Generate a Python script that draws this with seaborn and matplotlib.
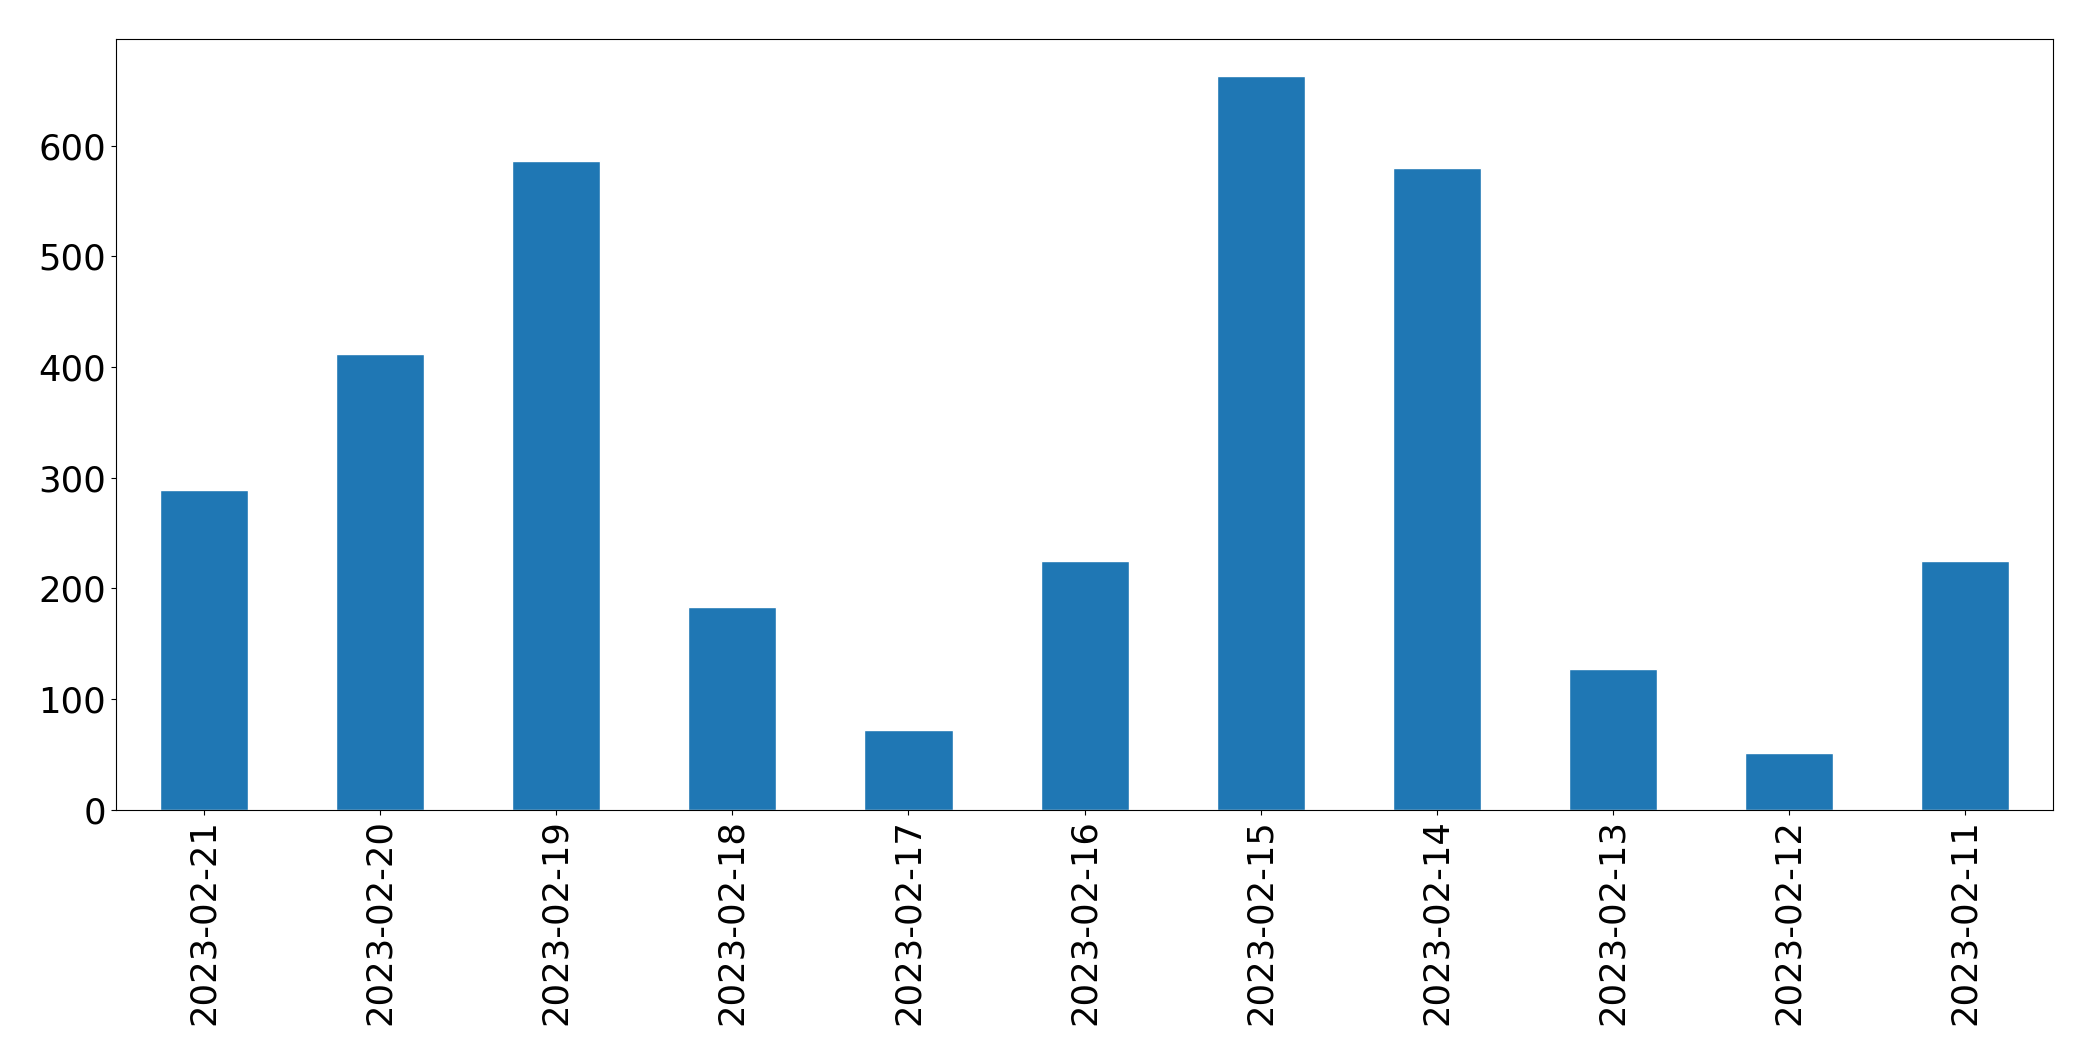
import matplotlib
matplotlib.use('Agg')
import matplotlib.pyplot as plt
import seaborn as sns
import pandas as pd

dates = ['2023-02-21', '2023-02-20', '2023-02-19', '2023-02-18', '2023-02-17', '2023-02-16',
         '2023-02-15', '2023-02-14', '2023-02-13', '2023-02-12', '2023-02-11']
counts = [289, 412, 586, 183, 72, 225, 663, 580, 127, 51, 225]

sns.set_style('ticks')
plt.rcParams['font.family'] = ['DejaVu Sans']

df = pd.DataFrame({'date': dates, 'count': counts})

fig, ax = plt.subplots(figsize=(20.93, 10.61), dpi=100)
sns.barplot(data=df, x='date', y='count', color='#1f77b4', saturation=1, width=0.5, ax=ax)
ax.set_xlim(-0.5, len(dates) - 0.5)
ax.set_ylim(0, max(counts) * 1.05)
ax.set_xlabel('')
ax.set_ylabel('')
ax.tick_params(axis='both', labelsize=25.5, colors='black')
ax.tick_params(axis='x', labelrotation=90)
for s in ax.spines.values():
    s.set_visible(True)
    s.set_color('black')

plt.subplots_adjust(left=0.0554, right=0.981, top=0.963, bottom=0.237)
plt.savefig('out.png', dpi=100)
